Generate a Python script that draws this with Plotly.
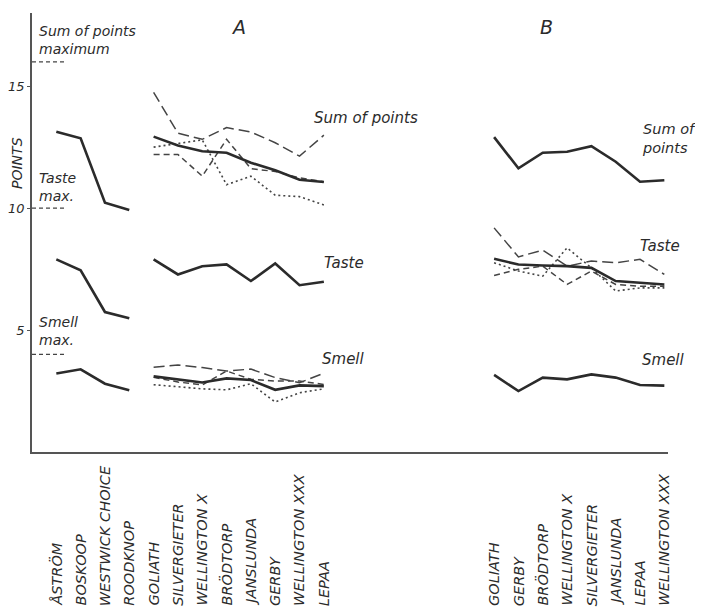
import plotly.graph_objects as go

# ---------------- data ----------------
left_cats = ["ÅSTRÖM", "BOSKOOP", "WESTWICK CHOICE", "ROODKNOP"]
a_cats = ["GOLIATH", "SILVERGIETER", "WELLINGTON X", "BRÖDTORP",
          "JANSLUNDA", "GERBY", "WELLINGTON XXX", "LEPAA"]
b_cats = ["GOLIATH", "GERBY", "BRÖDTORP", "WELLINGTON X",
          "SILVERGIETER", "JANSLUNDA", "LEPAA", "WELLINGTON XXX"]

left_sum = [13.13, 12.86, 10.22, 9.92]
left_taste = [7.90, 7.45, 5.74, 5.48]
left_smell = [3.22, 3.39, 2.80, 2.53]

a_sum_solid = [12.93, 12.57, 12.33, 12.27, 11.86, 11.55, 11.16, 11.07]
a_sum_long = [14.75, 13.07, 12.82, 13.30, 13.12, 12.68, 12.13, 12.99]
a_sum_med = [12.20, 12.20, 11.31, 12.82, 11.62, 11.50, 11.24, 11.08]
a_sum_dot = [12.50, 12.66, 12.80, 10.96, 11.31, 10.53, 10.47, 10.13]
a_taste = [7.90, 7.28, 7.62, 7.69, 7.01, 7.73, 6.84, 6.98]
a_smell_solid = [3.10, 2.98, 2.85, 3.02, 2.95, 2.55, 2.73, 2.70]
a_smell_long = [3.48, 3.57, 3.46, 3.32, 3.40, 3.05, 2.84, 3.23]
a_smell_med = [3.06, 2.87, 2.75, 3.32, 2.98, 2.91, 2.91, 2.77]
a_smell_dot = [2.76, 2.67, 2.59, 2.55, 2.80, 2.05, 2.43, 2.59]

b_sum = [12.91, 11.63, 12.27, 12.31, 12.54, 11.90, 11.08, 11.14]
b_taste_solid = [7.92, 7.69, 7.65, 7.62, 7.55, 7.01, 6.94, 6.87]
b_taste_long = [9.19, 8.00, 8.28, 7.62, 7.83, 7.76, 7.90, 7.28]
b_taste_med = [7.24, 7.49, 7.62, 6.87, 7.42, 6.87, 6.80, 6.80]
b_taste_dot = [7.76, 7.42, 7.21, 8.37, 7.55, 6.60, 6.73, 6.73]
b_smell = [3.16, 2.50, 3.05, 2.98, 3.18, 3.05, 2.75, 2.72]

max_sum, max_taste, max_smell = 16, 10, 4
y_ticks = [5, 10, 15]

# ---------------- positions ----------------
GAP = 6
pos_left = list(range(len(left_cats)))
pos_a = list(range(len(left_cats), len(left_cats) + len(a_cats)))
b_start = pos_a[-1] + 1 + GAP
pos_b = list(range(b_start, b_start + len(b_cats)))

INK = "#2b2b2b"
FONT = "DejaVu Sans"

SOLID = dict(color=INK, width=2.6)
LONG = dict(color="#444", width=1.5, dash="11px,5px")
MED = dict(color="#444", width=1.5, dash="6px,4px")
DOT = dict(color="#444", width=1.6, dash="2px,3px")

fig = go.Figure()


def add(x, y, line):
    fig.add_trace(go.Scatter(x=x, y=y, mode="lines", line=line,
                             showlegend=False, hoverinfo="skip"))


# left group
for s in (left_sum, left_taste, left_smell):
    add(pos_left, s, SOLID)

# panel A
for s, st in ((a_sum_long, LONG), (a_sum_med, MED), (a_sum_dot, DOT),
              (a_sum_solid, SOLID), (a_taste, SOLID),
              (a_smell_long, LONG), (a_smell_med, MED), (a_smell_dot, DOT),
              (a_smell_solid, SOLID)):
    add(pos_a, s, st)

# panel B
for s, st in ((b_sum, SOLID), (b_taste_long, LONG), (b_taste_med, MED),
              (b_taste_dot, DOT), (b_taste_solid, SOLID), (b_smell, SOLID)):
    add(pos_b, s, st)

# maximum markers
for m in (max_sum, max_taste, max_smell):
    add([-1, 0.36], [m, m], dict(color="#444", width=1.2, dash="4px,3px"))

ann = []


def text(x, y, t, size=15, xanchor="left", yanchor="middle", xref="x",
         yref="y", angle=0):
    ann.append(dict(x=x, y=y, xref=xref, yref=yref, text=t, showarrow=False,
                    xanchor=xanchor, yanchor=yanchor, textangle=angle,
                    align="left",
                    font=dict(family=FONT, size=size, color=INK,
                              style="italic")))


# max labels
text(-0.79, 16.89, "Sum of points<br>maximum", 14)
text(-0.79, 10.87, "Taste<br>max.", 14)
text(-0.79, 4.96, "Smell<br>max.", 14)

# panel titles
text(pos_a[0] + 3.47, 17.42, "A", 19, xanchor="center")
text(pos_b[0] + 2.14, 17.42, "B", 19, xanchor="center")

# series labels
text(pos_a[-1] - 0.49, 13.69, "Sum of points", 15)
text(pos_a[-1] - 0.07, 7.75, "Taste", 15)
text(pos_a[-1] - 0.16, 3.81, "Smell", 15)
text(pos_b[-1] - 1.0, 12.87, "Sum of<br>points", 14.5)
text(pos_b[-1] - 1.08, 8.45, "Taste", 15)
text(pos_b[-1] - 1.0, 3.77, "Smell", 15)

# y title
text(-0.0236, 11.85, "POINTS", 14, xanchor="center", xref="paper", angle=-90)

# category labels (bottom aligned, rotated)
for p, c in zip(pos_left + pos_a + pos_b, left_cats + a_cats + b_cats):
    text(p, -0.355, c, 14.5, xanchor="center", yanchor="bottom", yref="paper",
         angle=-90)

# the page body adds an 8px margin; the figure is sized to compensate
fig.update_layout(
    width=695, height=603,
    margin=dict(l=24, r=35, t=5, b=159, autoexpand=False),
    plot_bgcolor="white", paper_bgcolor="white",
    annotations=ann,
    xaxis=dict(range=[-1, pos_b[-1] + 0.15], showgrid=False, zeroline=False,
               showline=True, linecolor="#555", linewidth=1.5,
               showticklabels=False, ticks="", automargin=False),
    yaxis=dict(range=[0, 18.0], showgrid=False, zeroline=False,
               showline=True, linecolor="#555", linewidth=1.5,
               tickvals=y_ticks, ticktext=[str(v) for v in y_ticks],
               ticks="outside", ticklen=3, tickcolor="#555", automargin=False,
               tickfont=dict(family=FONT, size=13, color=INK,
                             style="italic")),
)

fig.write_html("out.html")
